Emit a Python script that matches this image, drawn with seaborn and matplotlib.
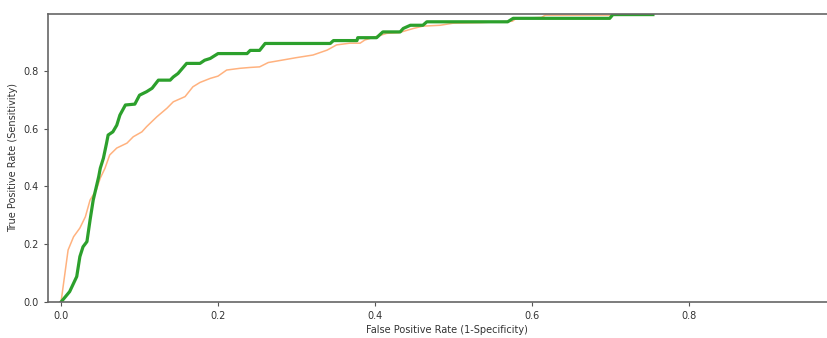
import pandas as pd
import matplotlib
matplotlib.use("Agg")
import matplotlib.pyplot as plt
import seaborn as sns

# ROC curve points
orange_fpr = [0, 0.005, 0.009, 0.016, 0.024, 0.031, 0.037, 0.045, 0.050, 0.056, 0.062, 0.071,
              0.084, 0.092, 0.103, 0.109, 0.122, 0.135, 0.143, 0.158, 0.168, 0.177, 0.190,
              0.200, 0.211, 0.228, 0.241, 0.253, 0.264, 0.281, 0.300, 0.321, 0.339, 0.351,
              0.368, 0.381, 0.387, 0.415, 0.430, 0.449, 0.461, 0.483, 0.499, 0.534, 0.575,
              0.580, 0.612, 0.617, 0.700]
orange_tpr = [0, 0.100, 0.180, 0.226, 0.256, 0.295, 0.353, 0.388, 0.429, 0.463, 0.509, 0.533,
              0.550, 0.572, 0.589, 0.607, 0.641, 0.671, 0.693, 0.711, 0.745, 0.760, 0.774,
              0.782, 0.803, 0.809, 0.812, 0.814, 0.829, 0.837, 0.846, 0.855, 0.872, 0.890,
              0.896, 0.896, 0.907, 0.930, 0.932, 0.947, 0.955, 0.958, 0.965, 0.967, 0.972,
              0.982, 0.985, 0.993, 0.993]

green_fpr = [0, 0.011, 0.020, 0.024, 0.028, 0.033, 0.037, 0.041, 0.048, 0.050, 0.054, 0.058,
             0.060, 0.066, 0.071, 0.075, 0.082, 0.094, 0.100, 0.109, 0.116, 0.124, 0.139,
             0.143, 0.149, 0.160, 0.177, 0.183, 0.190, 0.200, 0.237, 0.241, 0.253, 0.260,
             0.343, 0.347, 0.377, 0.378, 0.402, 0.410, 0.432, 0.436, 0.445, 0.461, 0.466,
             0.569, 0.576, 0.699, 0.703, 0.754]
green_tpr = [0, 0.036, 0.088, 0.157, 0.191, 0.209, 0.284, 0.353, 0.434, 0.463, 0.498, 0.550,
             0.578, 0.589, 0.612, 0.647, 0.682, 0.685, 0.716, 0.728, 0.740, 0.768, 0.768,
             0.779, 0.791, 0.826, 0.826, 0.837, 0.843, 0.860, 0.860, 0.871, 0.871, 0.895,
             0.895, 0.905, 0.905, 0.915, 0.915, 0.935, 0.935, 0.947, 0.958, 0.958, 0.970,
             0.970, 0.982, 0.982, 0.995, 0.995]

fig = plt.figure(figsize=(8.28, 3.38), dpi=100)
# axes runs off the right edge of the picture, like the cropped original
ax = fig.add_axes([48 / 828, 36 / 338, 798 / 828, 288 / 338])

sns.lineplot(x=orange_fpr, y=orange_tpr, ax=ax, sort=False, estimator=None,
             color="#ffb27f", linewidth=1.1)
sns.lineplot(x=green_fpr, y=green_tpr, ax=ax, sort=False, estimator=None,
             color="#2ca02c", linewidth=2.3)

ax.set_xlim(-0.0166, 1.0)
ax.set_ylim(0, 0.997)
ax.set_xticks([0, 0.2, 0.4, 0.6, 0.8])
ax.set_yticks([0, 0.2, 0.4, 0.6, 0.8])
ax.tick_params(labelsize=7, length=3, color="#555555", labelcolor="#333333")
for s in ax.spines.values():
    s.set_color("#666666")
    s.set_linewidth(1.2)

ax.set_xlabel("False Positive Rate (1-Specificity)", fontsize=7, color="#333333", labelpad=3)
ax.set_ylabel("True Positive Rate (Sensitivity)", fontsize=7, color="#333333", labelpad=4)

fig.savefig("out.png", dpi=100)
